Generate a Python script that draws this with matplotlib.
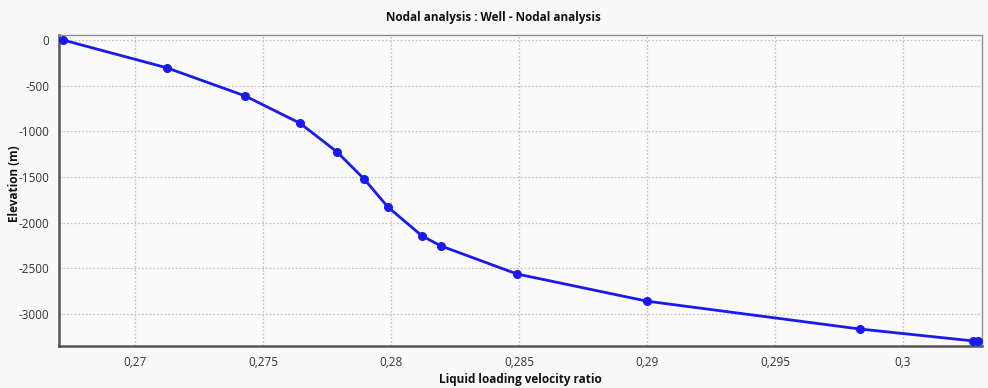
import matplotlib
matplotlib.use("Agg")
import matplotlib.pyplot as plt
from matplotlib.ticker import FuncFormatter

velocity_ratio = [0.26719, 0.27125, 0.27430, 0.27645, 0.27789, 0.27895, 0.27988,
                  0.28121, 0.28195, 0.28492, 0.29000, 0.29832, 0.30273, 0.30293]
elevation = [0, -305, -612, -912, -1225, -1522, -1829,
             -2145, -2255, -2562, -2860, -3165, -3295, -3297]
x_ticks = [0.27, 0.275, 0.28, 0.285, 0.29, 0.295, 0.30]
y_ticks = [0, -500, -1000, -1500, -2000, -2500, -3000]

plt.rcParams['font.family'] = ['Open Sans', 'DejaVu Sans']

fig = plt.figure(figsize=(9.88, 3.88), dpi=100, facecolor='#f9f9f9')
ax = fig.add_axes([59/988, 1-346/388, (982-59)/988, (346-35)/388])
ax.set_facecolor('#fafafa')

ax.plot(velocity_ratio, elevation, color='#1a1aee', lw=2.0, marker='o', ms=5.5,
        markerfacecolor='#1a1aee', markeredgecolor='#1a1aee', zorder=3)

ax.set_xlim(0.26703, 0.30309)
ax.set_ylim(-3351, 55)
ax.set_xticks(x_ticks)
ax.set_yticks(y_ticks)
ax.xaxis.set_major_formatter(FuncFormatter(lambda v, p: ('%g' % v).replace('.', ',')))
ax.yaxis.set_major_formatter(FuncFormatter(lambda v, p: '%d' % v))
ax.tick_params(length=0, labelsize=8.5, colors='#333333', pad=7)
ax.grid(True, color='#c4c4c4', linestyle=(0, (1.5, 1.5)), lw=0.9)

for side in ['top', 'right']:
    ax.spines[side].set_color('#909090')
    ax.spines[side].set_linewidth(1.0)
for side in ['left', 'bottom']:
    ax.spines[side].set_color('#555555')
    ax.spines[side].set_linewidth(1.8)

fig.text(493/988, 1-18/388, 'Nodal analysis : Well - Nodal analysis', ha='center', va='center',
         fontsize=8.5, fontweight='bold', color='#111111')
fig.text(520/988, 1-380/388, 'Liquid loading velocity ratio', ha='center', va='center',
         fontsize=8.5, fontweight='bold', color='#111111')
fig.text(14/988, 1-184/388, 'Elevation (m)', ha='center', va='center', rotation=90,
         fontsize=8.5, fontweight='bold', color='#111111')

fig.savefig('out.png', dpi=100, facecolor=fig.get_facecolor())
